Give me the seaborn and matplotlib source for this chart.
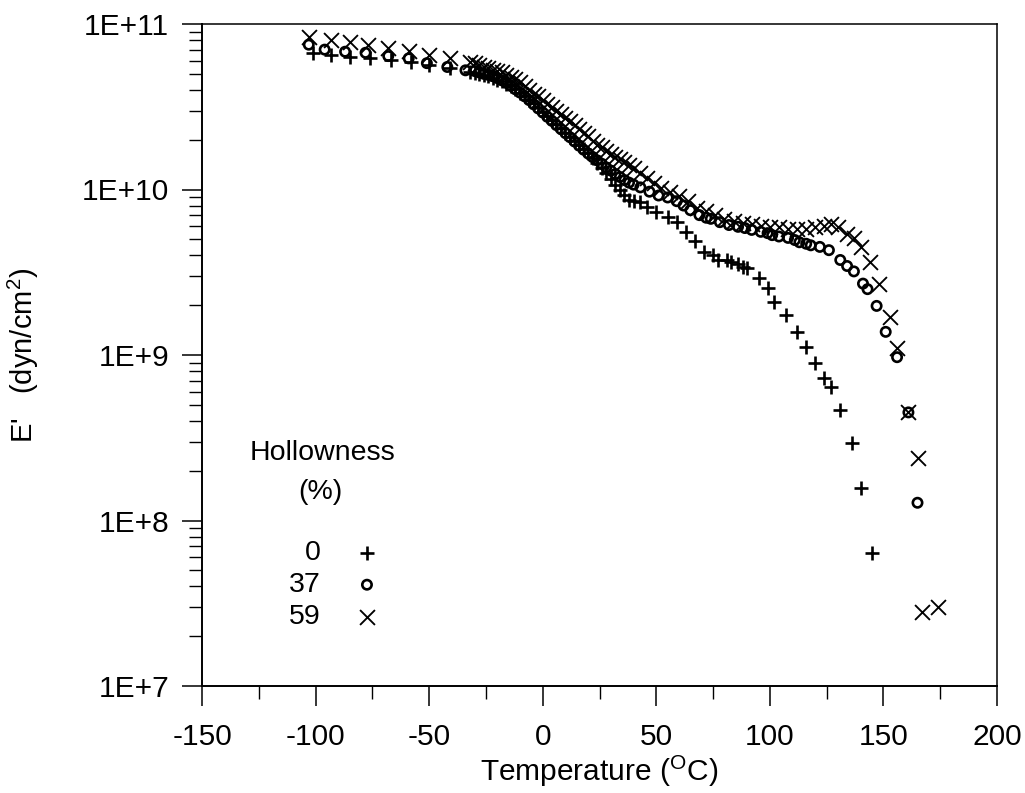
import matplotlib
matplotlib.use("Agg")
import numpy as np
import pandas as pd
import matplotlib.pyplot as plt
import seaborn as sns
from matplotlib.ticker import FixedLocator, FuncFormatter, LogLocator, NullFormatter, MultipleLocator

# Storage modulus E' (dyn/cm^2) versus temperature (deg C) for three hollowness levels
temp_0 = [-101, -93, -85, -76, -67, -58, -50, -41, -32, -30, -28, -26, -24, -22, -20, -18,
          -16, -14, -12, -10, -8, -6, -4, -2, 0, 2, 4, 6, 8, 10, 12, 14, 16, 18, 20, 22, 24,
          26, 28, 30, 32, 34, 36, 38, 40, 43, 46, 50, 55, 59, 63, 67, 71, 75, 77, 81, 83, 86,
          88, 90, 95, 99, 102, 107, 112, 116, 120, 124, 127, 131, 136, 140, 145]
mod_0 = [6.7e10, 6.5e10, 6.3e10, 6.2e10, 6.05e10, 5.9e10, 5.65e10, 5.4e10, 5.1e10, 5.07e10,
         5.0e10, 4.93e10, 4.84e10, 4.73e10, 4.62e10, 4.5e10, 4.37e10, 4.2e10, 4.03e10, 3.85e10,
         3.67e10, 3.49e10, 3.31e10, 3.13e10, 2.95e10, 2.79e10, 2.63e10, 2.48e10, 2.34e10,
         2.21e10, 2.09e10, 1.97e10, 1.86e10, 1.76e10, 1.66e10, 1.55e10, 1.45e10, 1.35e10,
         1.26e10, 1.16e10, 1.07e10, 1.0e10, 9.3e9, 8.7e9, 8.5e9, 8.4e9, 7.8e9, 7.3e9, 6.8e9,
         6.4e9, 5.5e9, 4.9e9, 4.2e9, 4.0e9, 3.75e9, 3.75e9, 3.65e9, 3.55e9, 3.4e9, 3.35e9,
         2.9e9, 2.55e9, 2.1e9, 1.75e9, 1.38e9, 1.12e9, 9.0e8, 7.3e8, 6.4e8, 4.65e8, 2.94e8,
         1.57e8, 6.4e7]

temp_37 = [-103, -96, -87, -78, -68, -59, -51, -42, -34, -30, -28, -26, -24, -22, -20, -18,
           -16, -14, -12, -10, -8, -6, -4, -2, 0, 2, 4, 6, 8, 10, 12, 14, 16, 18, 20, 22, 24,
           26, 28, 30, 32, 34, 36, 38, 40, 43, 47, 51, 55, 59, 62, 65, 69, 72, 74, 78, 82, 86,
           89, 92, 96, 99, 101, 104, 108, 111, 113, 116, 118, 122, 126, 131, 134, 137, 141, 143,
           147, 151, 156, 161, 165]
mod_37 = [7.5e10, 7.0e10, 6.8e10, 6.7e10, 6.4e10, 6.2e10, 5.8e10, 5.5e10, 5.25e10, 5.2e10,
          5.1e10, 5.0e10, 4.93e10, 4.84e10, 4.71e10, 4.57e10, 4.4e10, 4.22e10, 4.03e10, 3.85e10,
          3.66e10, 3.47e10, 3.27e10, 3.09e10, 2.92e10, 2.75e10, 2.6e10, 2.45e10, 2.32e10,
          2.19e10, 2.07e10, 1.95e10, 1.84e10, 1.74e10, 1.65e10, 1.57e10, 1.5e10, 1.43e10,
          1.36e10, 1.3e10, 1.24e10, 1.19e10, 1.14e10, 1.1e10, 1.07e10, 1.03e10, 9.7e9, 9.2e9,
          8.95e9, 8.5e9, 8.0e9, 7.5e9, 7.0e9, 6.75e9, 6.65e9, 6.35e9, 6.1e9, 5.95e9, 5.85e9,
          5.7e9, 5.55e9, 5.45e9, 5.3e9, 5.2e9, 5.1e9, 4.95e9, 4.8e9, 4.7e9, 4.6e9, 4.5e9,
          4.3e9, 3.75e9, 3.45e9, 3.2e9, 2.7e9, 2.5e9, 1.98e9, 1.38e9, 9.7e8, 4.5e8, 1.28e8]

temp_59 = [-103, -93, -85, -77, -68, -59, -50, -41, -32, -30, -28, -26, -24, -22, -20, -18,
           -16, -14, -12, -10, -8, -6, -4, -2, 0, 2, 4, 6, 8, 10, 12, 14, 16, 18, 20, 22, 24,
           26, 28, 30, 32, 34, 36, 38, 40, 43, 46, 49, 52, 56, 60, 64, 68, 72, 76, 80, 84, 88,
           92, 96, 100, 104, 108, 112, 116, 120, 124, 127, 130, 134, 137, 140, 144, 148, 153,
           156, 161, 165, 167, 174]
mod_59 = [8.3e10, 8.0e10, 7.8e10, 7.5e10, 7.2e10, 6.9e10, 6.5e10, 6.2e10, 5.9e10, 5.8e10,
          5.65e10, 5.5e10, 5.4e10, 5.3e10, 5.2e10, 5.1e10, 4.95e10, 4.8e10, 4.65e10, 4.45e10,
          4.25e10, 4.0e10, 3.8e10, 3.65e10, 3.45e10, 3.3e10, 3.15e10, 3.0e10, 2.85e10, 2.72e10,
          2.58e10, 2.45e10, 2.32e10, 2.21e10, 2.1e10, 1.97e10, 1.87e10, 1.8e10, 1.72e10,
          1.65e10, 1.58e10, 1.52e10, 1.46e10, 1.4e10, 1.34e10, 1.26e10, 1.17e10, 1.1e10,
          1.02e10, 9.7e9, 9.1e9, 8.5e9, 7.7e9, 7.45e9, 7.0e9, 6.6e9, 6.45e9, 6.3e9, 6.15e9,
          6.0e9, 5.95e9, 5.9e9, 5.8e9, 5.8e9, 5.8e9, 5.9e9, 6.05e9, 6.15e9, 5.9e9, 5.4e9,
          5.1e9, 4.5e9, 3.65e9, 2.7e9, 1.7e9, 1.1e9, 4.5e8, 2.4e8, 2.8e7, 3.0e7]

hollowness = ["0", "37", "59"]
y_ticks = [1e7, 1e8, 1e9, 1e10, 1e11]
x_ticks = [-150, -100, -50, 0, 50, 100, 150, 200]

sns.set_style("ticks")
plt.rcParams["font.family"] = ["Liberation Sans", "DejaVu Sans"]
plt.rcParams["mathtext.default"] = "regular"
plt.rcParams["axes.unicode_minus"] = False
plt.rcParams["text.color"] = "black"

fig = plt.figure(figsize=(10.25, 7.93), dpi=100)
ax = fig.add_axes([202 / 1025, 1 - 686 / 793, 795 / 1025, 662 / 793])

frames = {
    "0": pd.DataFrame({"T": temp_0, "E": mod_0}),
    "37": pd.DataFrame({"T": temp_37, "E": mod_37}),
    "59": pd.DataFrame({"T": temp_59, "E": mod_59}),
}
styles = {
    "0": dict(marker="+", s=115, linewidth=1.9, color="black", edgecolor=None),
    "37": dict(marker="o", s=45, linewidth=1.9, facecolor="none", edgecolor="black", color="black"),
    "59": dict(marker="x", s=115, linewidth=1.35, color="black", edgecolor=None),
}
for key in hollowness:
    sns.scatterplot(data=frames[key], x="T", y="E", ax=ax, legend=False, zorder=3,
                    **styles[key])

ax.set_yscale("log")
ax.set_xlim(-150, 200)
ax.set_ylim(1e7, 1e11)
ax.xaxis.set_major_locator(FixedLocator(x_ticks))
ax.xaxis.set_minor_locator(MultipleLocator(25))
ax.yaxis.set_major_locator(FixedLocator(y_ticks))
ax.yaxis.set_major_formatter(FuncFormatter(lambda v, _: f"1E+{int(round(np.log10(v)))}"))
ax.yaxis.set_minor_locator(LogLocator(base=10, subs=range(2, 10), numticks=20))
ax.yaxis.set_minor_formatter(NullFormatter())

ax.tick_params(axis="both", which="major", direction="out", length=14.5, width=1.1,
               color="black", labelsize=21.5, labelcolor="black", top=False, right=False)
ax.tick_params(axis="both", which="minor", direction="out", length=9.5, width=1.0,
               color="black", top=False, right=False)
ax.tick_params(axis="y", which="major", pad=9)
ax.tick_params(axis="x", which="major", pad=12)
for side, sp in ax.spines.items():
    sp.set_visible(True)
    sp.set_color("black")
    sp.set_linewidth(1.4 if side in ("left", "bottom") else 1.1)

ax.set_xlabel("Temperature ($^{O}$C)", fontsize=21.5, color="black")
ax.set_ylabel("E'   (dyn/cm$^{2}$)", fontsize=21, color="black")
ax.xaxis.set_label_coords(0.5, -0.103)
ax.yaxis.set_label_coords(-0.203, 0.5)

# Key: hollowness levels with their marker symbols
ax.text(0.151, 0.352, "Hollowness", transform=ax.transAxes, ha="center", va="center",
        fontsize=20.5, color="black")
ax.text(0.149, 0.293, "(%)", transform=ax.transAxes, ha="center", va="center",
        fontsize=20.5, color="black")
key_y = [0.201, 0.153, 0.104]
for key, yk in zip(hollowness, key_y):
    ax.text(0.149, yk, key, transform=ax.transAxes, ha="right", va="center",
            fontsize=20.5, color="black")
    st = dict(styles[key])
    if st.get("edgecolor") is None:
        st.pop("edgecolor", None)
    ax.scatter([0.2075], [yk], transform=ax.transAxes, clip_on=False, zorder=4, **st)

fig.savefig("out.png", dpi=100, facecolor="white")
